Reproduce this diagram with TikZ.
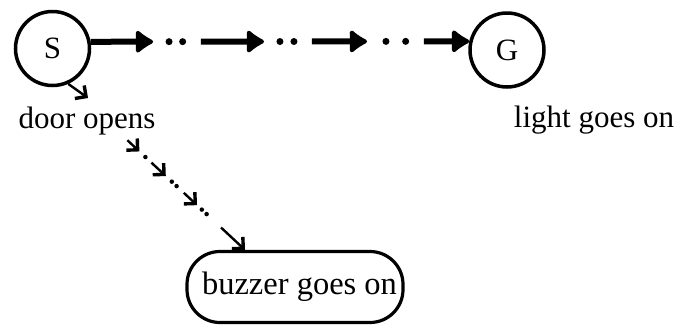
\documentclass[tikz,border=0pt]{standalone}
\usepackage{fontspec}
\setmainfont{Liberation Serif}
\usetikzlibrary{arrows.meta,calc}
\begin{document}
\begin{tikzpicture}[x=1pt,y=-1pt,
  every node/.style={font=\fontsize{31}{36}\selectfont},
  state/.style={draw,circle,line width=3.5pt,minimum size=74pt,inner sep=0pt},
  heavy/.style={line width=6pt,-{Latex[round,length=20pt,width=28pt]}},
  light arrow/.style={line width=2.4pt,-{Straight Barb[length=8pt,width=16pt,line width=3.4pt]}},
  dotmark/.style={fill,circle,inner sep=0pt,minimum size=#1},
  dotmark/.default=7pt,
  label text/.style={anchor=base,inner sep=0pt},
  action/.style={draw,line width=3.2pt,rounded corners=33pt,minimum width=216pt,minimum height=71pt,inner sep=0pt,
    font=\fontsize{32.5}{38}\selectfont}
]
\useasboundingbox (0,0) rectangle (679,325);

% states
\node[state] (S) at (52.5,48.5) {S};
\node[state] (G) at (507,50) {G};

% labels
\node[label text] (door) at (87,128) {door opens};
\node[label text] (light) at (594,127) {light goes on};
\node[action] (buzzer) at (295,287) {\hspace*{9pt}buzzer goes on};

% chain of steps from S to G
\coordinate (h0) at (S.10);
\coordinate (h1) at (G.167.5);
\draw[heavy] (h0) -- ($(h0)!0.165!(h1)$);
\node[dotmark] at ($(h0)!0.207!(h1)$) {};
\node[dotmark] at ($(h0)!0.243!(h1)$) {};
\draw[heavy] ($(h0)!0.291!(h1)$) -- ($(h0)!0.458!(h1)$);
\node[dotmark] at ($(h0)!0.50!(h1)$) {};
\node[dotmark] at ($(h0)!0.537!(h1)$) {};
\draw[heavy] ($(h0)!0.584!(h1)$) -- ($(h0)!0.730!(h1)$);
\node[dotmark] at ($(h0)!0.78!(h1)$) {};
\node[dotmark] at ($(h0)!0.832!(h1)$) {};
\draw[heavy] ($(h0)!0.88!(h1)$) -- (h1);

% event leaving S
\coordinate (sa) at (88,98);
\draw[light arrow] (S.-66) -- (sa);

% chain from the door event to the buzzer
\coordinate (d0) at (125,138);
\coordinate (d1) at ([xshift=-50pt]buzzer.north);
\draw[light arrow] ($(d0)!0.02!(d1)$) -- ($(d0)!0.12!(d1)$);
\node[dotmark=4.5pt] at ($(d0)!0.17!(d1)$) {};
\draw[light arrow] ($(d0)!0.22!(d1)$) -- ($(d0)!0.34!(d1)$);
\node[dotmark=4.5pt] at ($(d0)!0.39!(d1)$) {};
\node[dotmark=4.5pt] at ($(d0)!0.43!(d1)$) {};
\draw[light arrow] ($(d0)!0.49!(d1)$) -- ($(d0)!0.60!(d1)$);
\node[dotmark=4.5pt] at ($(d0)!0.64!(d1)$) {};
\node[dotmark=4.5pt] at ($(d0)!0.68!(d1)$) {};
\draw[light arrow] ($(d0)!0.80!(d1)$) -- (d1);
\end{tikzpicture}
\end{document}
